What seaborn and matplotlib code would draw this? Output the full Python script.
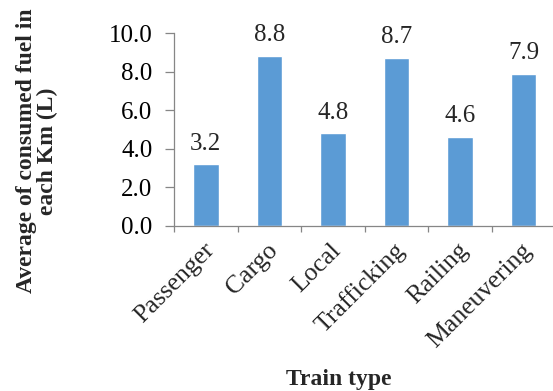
import matplotlib
matplotlib.use("Agg")
import matplotlib.pyplot as plt
import matplotlib.transforms as mtransforms
import seaborn as sns
import pandas as pd

# Average fuel use per km for each train type
train_types = ["Passenger", "Cargo", "Local", "Trafficking", "Railing", "Maneuvering"]
fuel_per_km = [3.2, 8.8, 4.8, 8.7, 4.6, 7.9]
y_ticks = [0.0, 2.0, 4.0, 6.0, 8.0, 10.0]

df = pd.DataFrame({"Train type": train_types, "Fuel": fuel_per_km})

sns.set_theme(style="white")
plt.rcParams["font.family"] = ["Liberation Serif", "DejaVu Serif"]

W, H = 553, 391
fig = plt.figure(figsize=(W / 100, H / 100), dpi=100)
ax = fig.add_axes([174 / W, 1 - 226 / H, (555.5 - 174) / W, (226 - 33) / H])

sns.barplot(data=df, x="Train type", y="Fuel", color="#5B9BD5",
            saturation=1, width=0.4, ax=ax)

ax.set_xlim(-0.5, len(train_types) - 0.5)
ax.set_ylim(0, 10)
ax.set_yticks(y_ticks)
ax.set_yticklabels([f"{v:.1f}" for v in y_ticks], fontsize=18)
ax.set_xlabel("")
ax.set_ylabel("")

# value labels above bars
for cont in ax.containers:
    ax.bar_label(cont, fmt="%.1f", padding=7, fontsize=18)

gray = "#868686"
for side in ["top", "right"]:
    ax.spines[side].set_visible(False)
for side in ["left", "bottom"]:
    ax.spines[side].set_color(gray)
    ax.spines[side].set_linewidth(0.9)

ax.tick_params(axis="y", left=True, length=6.5, width=0.9, color=gray, pad=9,
               labelcolor="black")
ax.tick_params(axis="x", which="major", bottom=False, length=0, pad=15)
ax.set_xticks([i - 0.5 for i in range(len(train_types) + 1)], minor=True)
ax.tick_params(axis="x", which="minor", bottom=True, length=4.3, width=0.9,
               color=gray)

shift = mtransforms.ScaledTranslation(5 / 100, 0, fig.dpi_scale_trans)
for lbl in ax.get_xticklabels():
    lbl.set_rotation(45)
    lbl.set_rotation_mode("anchor")
    lbl.set_ha("right")
    lbl.set_va("center")
    lbl.set_fontsize(18.5)
    lbl.set_transform(lbl.get_transform() + shift)

fig.text(37 / W, 1 - 151 / H, "Average of consumed fuel in\neach Km (L)",
         rotation=90, ha="center", va="center", multialignment="center",
         fontsize=17, fontweight="bold", linespacing=1.05)
fig.text(338.5 / W, 1 - 385 / H, "Train type", ha="center", va="baseline",
         fontsize=17, fontweight="bold")

fig.savefig("out.png", dpi=100)
